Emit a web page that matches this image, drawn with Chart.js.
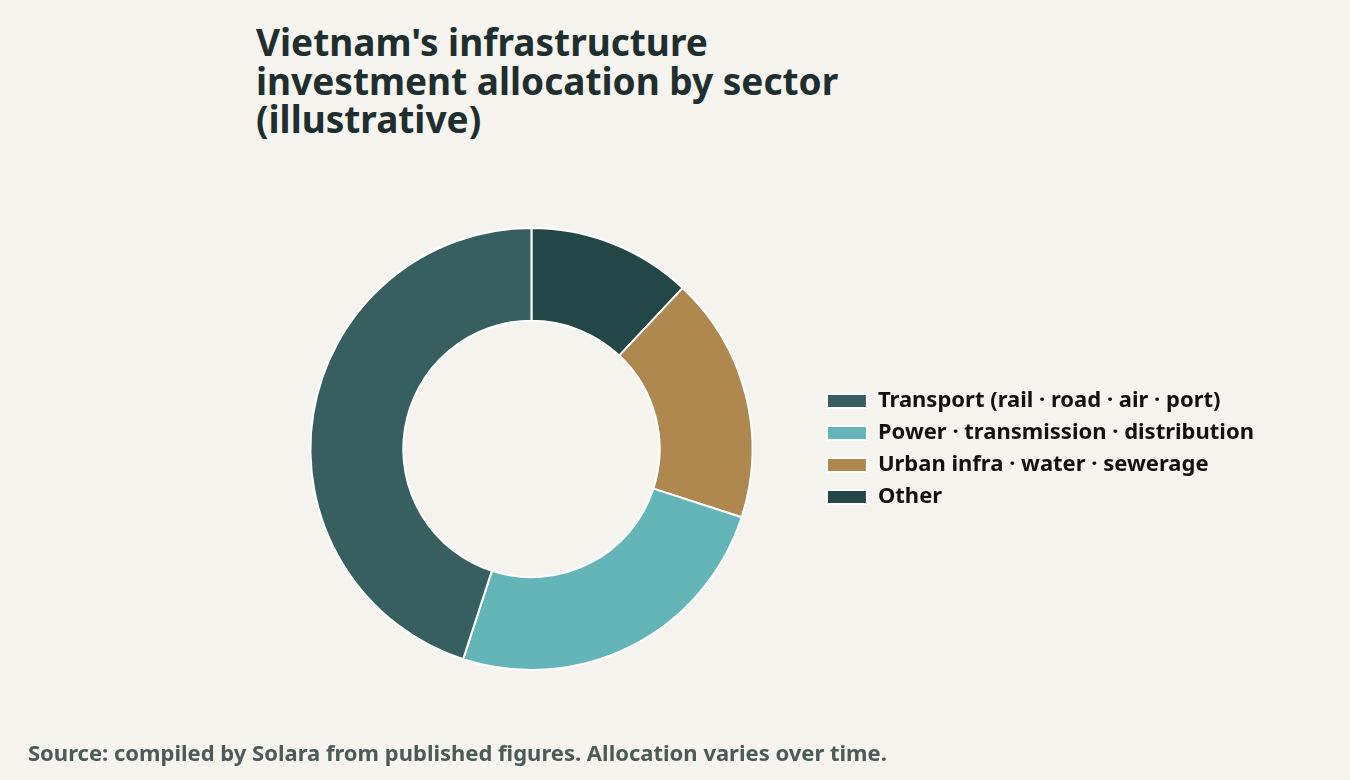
<!DOCTYPE html>
<html>
<head>
<meta charset="utf-8">
<script src="https://cdn.jsdelivr.net/npm/chart.js@4.4.1/dist/chart.umd.min.js"></script>
<style>
  html, body { margin: 0; padding: 0; background: #f5f4ef; }
  body { width: 1350px; height: 780px; position: relative; overflow: hidden; font-family: "Noto Sans", Lato, sans-serif; }
  #title { position: absolute; left: 256px; top: 23px; margin: 0; font-size: 37px; line-height: 38.5px; font-weight: 700; color: #1f2e2e; }
  #source { position: absolute; left: 28px; top: 737px; margin: 0; font-size: 22px; font-weight: 700; color: #4d5a5a; }
  #wrap { position: absolute; left: 0; top: 0; width: 1350px; height: 780px; }
</style>
</head>
<body>
<h1 id="title">Vietnam's infrastructure<br>investment allocation by sector<br>(illustrative)</h1>
<div id="wrap"><canvas id="chart-sectores"></canvas></div>
<p id="source">Source: compiled by Solara from published figures. Allocation varies over time.</p>
<script>
// datos (porcentaje aproximado)
const sectors = ['Transport (rail · road · air · port)', 'Power · transmission · distribution', 'Urban infra · water · sewerage', 'Other'];
const shares = [45, 25, 18, 12];
const colores = ['#375f5f', '#64b5b8', '#ae884e', '#234746'];

document.addEventListener('DOMContentLoaded', () => {
    const ctx = document.getElementById('chart-sectores').getContext('2d');

    // el original va en sentido antihorario: invertimos el orden y el legend lo revierte
    const labels = sectors.slice().reverse();
    const data = shares.slice().reverse();
    const bg = colores.slice().reverse();

    new Chart(ctx, {
        type: 'doughnut',
        data: {
            labels: labels,
            datasets: [{
                label: 'Investment share',
                data: data,
                backgroundColor: bg,
                borderColor: '#ffffff',
                borderWidth: 2,
                hoverOffset: 0,
            }],
        },
        options: {
            responsive: true,
            maintainAspectRatio: false,
            animation: false,
            cutout: '58%',
            layout: {
                padding: { top: 227, bottom: 109, left: 246, right: 86 },
            },
            plugins: {
                legend: {
                    display: true,
                    position: 'right',
                    reverse: true,
                    labels: {
                        boxWidth: 40,
                        boxHeight: 14,
                        padding: 10,
                        color: '#111111',
                        font: { family: 'Noto Sans', size: 22, weight: '700' },
                    },
                },
                tooltip: { enabled: true },
            },
        },
    });
});
</script>
</body>
</html>
